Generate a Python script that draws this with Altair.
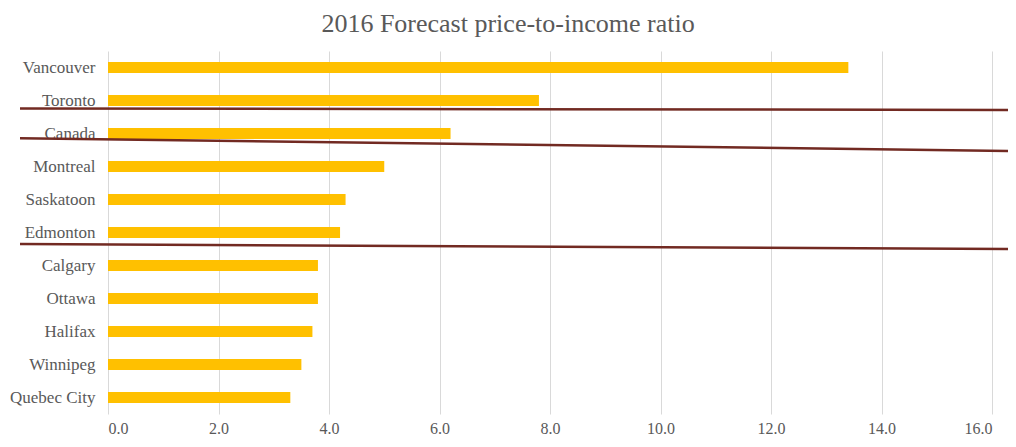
import altair as alt
import pandas as pd

cities = ["Vancouver", "Toronto", "Canada", "Montreal", "Saskatoon", "Edmonton",
          "Calgary", "Ottawa", "Halifax", "Winnipeg", "Quebec City"]
ratios = [13.4, 7.8, 6.2, 5.0, 4.3, 4.2, 3.8, 3.8, 3.7, 3.5, 3.3]
x_ticks = [0, 2, 4, 6, 8, 10, 12, 14, 16]

# decorative strike lines (pixel positions relative to the plot area)
line_x1 = [-88, -88, -88]
line_x2 = [908, 908, 908]
line_y1 = [57.5, 87.3, 193]
line_y2 = [59, 100, 198]

df = pd.DataFrame({"city": cities, "ratio": ratios})

FONT = "Liberation Serif"
TXT = "#595959"
W, H = 884, 363

bars = alt.Chart(df).mark_bar(color="#FFC000", size=11).encode(
    x=alt.X("ratio:Q",
            scale=alt.Scale(domain=[0, 16], nice=False),
            axis=alt.Axis(values=x_ticks, format=".1f", title=None, domain=False,
                          ticks=False, labelPadding=6, labelFontSize=16,
                          labelColor=TXT, labelFont=FONT, gridColor="#d9d9d9",
                          gridWidth=1)),
    y=alt.Y("city:N", sort=cities,
            axis=alt.Axis(title=None, domain=False, ticks=False, labelPadding=13,
                          labelFontSize=17, labelColor=TXT, labelFont=FONT,
                          grid=False)),
)

layers = [bars]
for a, b, c, d in zip(line_x1, line_x2, line_y1, line_y2):
    layers.append(
        alt.Chart(pd.DataFrame({"k": [0]})).mark_rule(
            color="#722A22", strokeWidth=2.5, clip=False
        ).encode(x=alt.value(a), x2=alt.value(b), y=alt.value(c), y2=alt.value(d))
    )

chart = alt.layer(*layers).properties(
    width=W, height=H,
    title=alt.TitleParams("2016 Forecast price-to-income ratio", font=FONT,
                          fontSize=26, fontWeight="normal", color=TXT,
                          anchor="middle", dx=-42, offset=14),
    autosize=alt.AutoSizeParams(type="none"),
    padding={"left": 100, "top": 43, "right": 16, "bottom": 25},
).configure_view(stroke=None)

chart.save("out.html", embed_options={"renderer": "svg", "actions": False})
